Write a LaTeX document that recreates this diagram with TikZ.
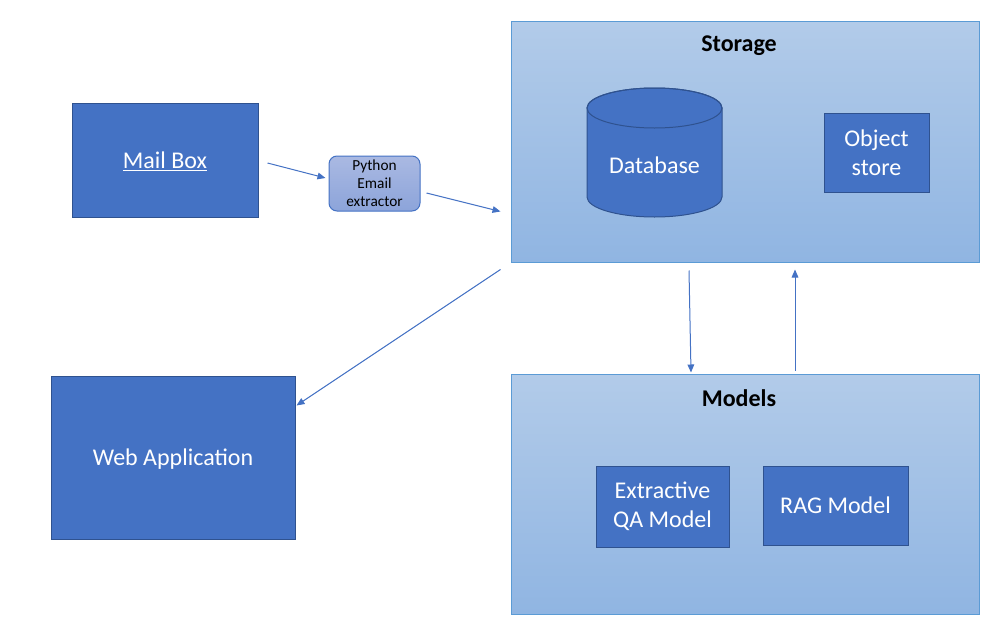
\documentclass[tikz,border=0pt]{standalone}
\usepackage{fontspec}
\setmainfont{Carlito}
\usetikzlibrary{arrows.meta,calc}
\definecolor{dkblue}{HTML}{4472C4}
\definecolor{dkborder}{HTML}{2F528F}
\definecolor{ltborder}{HTML}{5B9BD5}
\definecolor{grtop}{HTML}{B2CBE9}
\definecolor{grbot}{HTML}{90B5E2}
\definecolor{pytop}{HTML}{AAB9E2}
\definecolor{pybot}{HTML}{8CA4DA}
\definecolor{arrblue}{HTML}{4472C4}
\tikzset{
  darkbox/.style={draw=dkborder, fill=dkblue, line width=0.75pt, text=white, font=\fontsize{18}{21.75}\selectfont, align=center, inner sep=0pt},
  oneline/.style={text depth=0pt},
  groupbox/.style={draw=ltborder, line width=0.75pt, top color=grtop, bottom color=grbot, inner sep=0pt},
  pybox/.style={draw=dkblue, line width=0.75pt, top color=pytop, bottom color=pybot, rounded corners=6pt, align=center, inner sep=0pt, font=\fontsize{11.5}{13.5}\selectfont},
  grouptitle/.style={font=\bfseries\fontsize{18}{21}\selectfont, text=black},
  arr/.style={draw=arrblue, line width=0.75pt, -{Triangle[length=6pt,width=5pt]}}
}
\begin{document}
\begin{tikzpicture}[x=0.75pt,y=-0.75pt]
\useasboundingbox (0,0) rectangle (995,628);
% groups
\node[groupbox, minimum width=351pt, minimum height=180.75pt] (storage) at (745,141.5) {};
\node[groupbox, minimum width=351pt, minimum height=180pt] (models) at (745,494) {};
\node[grouptitle] (storagetitle) at (739,46) {Storage};
\node[grouptitle] (modelstitle) at (739,398) {Models};
% boxes
\node[darkbox, oneline, minimum width=139.5pt, minimum height=85.5pt] (mail) at (165,160) {\underline{Mail Box}};
\node[pybox, minimum width=68.25pt, minimum height=41.25pt] (py) at (374.5,183.5) {Python\\Email\\extractor};
\node[darkbox, minimum width=78.75pt, minimum height=59.25pt] (obj) at (876.5,152.5) {Object\\store};
\node[darkbox, minimum width=99.75pt, minimum height=60.75pt] (eqa) at (662.5,506.5) {Extractive\\QA Model};
\node[darkbox, oneline, minimum width=108.75pt, minimum height=59.25pt] (rag) at (835.5,505.5) {RAG Model};
\node[darkbox, oneline, minimum width=183pt, minimum height=122.25pt] (web) at (173,457.5) {Web Application};
% database cylinder
\path[fill=dkblue, draw=dkborder, line width=0.75pt]
  (587,108) -- (587,197) arc[start angle=180, end angle=0, x radius=67.5, y radius=20]
  -- (722,108) arc[start angle=0, end angle=-180, x radius=67.5, y radius=20] -- cycle;
\draw[dkborder, line width=0.75pt] (654.5,108) ellipse[x radius=67.5, y radius=20];
\node[text=white, font=\fontsize{18}{21.75}\selectfont] (db) at (654.5,165) {Database};
% connectors
\draw[arr] ($(mail.east)+(9,3)$) -- ($(py.west)+(-3,-5.5)$);
\draw[arr] ($(py.east)+(6,9.5)$) -- ($(storage.south west)+(-10,-51)$);
\draw[arr] ($(storage.south west)+(-10,7)$) -- ($(web.north east)+(1,30)$);
\draw[arr] ($(storage.south)+(-56,8)$) -- ($(models.north)+(-54,-1)$);
\draw[arr] ($(models.north)+(50,-3)$) -- ($(storage.south)+(50,7)$);
\end{tikzpicture}
\end{document}
